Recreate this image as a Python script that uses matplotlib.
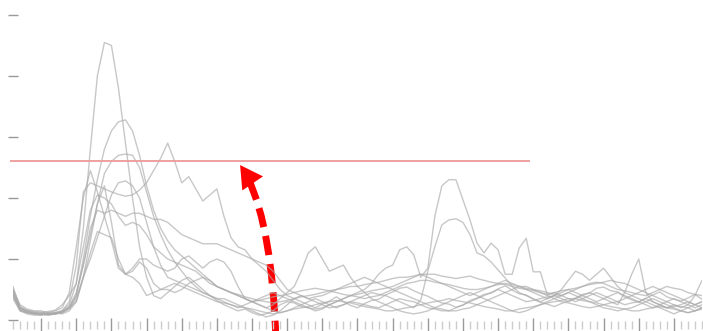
import numpy as np
import matplotlib.pyplot as plt
from matplotlib.patches import FancyArrowPatch
from matplotlib.ticker import MultipleLocator

weeks = np.arange(1, 100)

s1 = [5.5, 2.0, 1.5, 1.2, 1.0, 1.0, 1.2, 1.5, 2.5, 6.0,
      15, 28, 40, 45.5, 45, 38, 29, 20, 12, 7,
      4.0, 3.5, 4.5, 5.5, 6.5, 7.0, 6.0, 5.0, 4.0, 3.2,
      2.5, 2.0, 1.5, 1.8, 1.2, 0.8, 1.0, 1.5, 2.5, 3.0,
      2.8, 2.2, 2.0, 1.5, 1.8, 2.5, 3.0, 3.5, 4.0, 4.5,
      5.0, 6.0, 7.5, 8.5, 9.0, 11.5, 12.0, 10.7, 7.0, 8.5,
      17, 22, 23, 23, 19.7, 16.4, 12.6, 11, 12.6, 11.5,
      7.5, 7.5, 11.8, 13.4, 7.9, 7.9, 4.1, 4.5, 4.0, 3.5,
      3.0, 3.5, 4.0, 4.5, 4.0, 3.5, 3.0, 2.5, 2.8, 3.0,
      3.5, 3.0, 2.5, 2.0, 2.2, 2.5, 3.0, 2.5, 3.0]
s2 = [5.0, 2.2, 1.6, 1.4, 1.3, 1.0, 1.0, 1.3, 2.0, 4.0,
      10, 17, 23, 28, 31, 32.5, 32.8, 31, 27, 22,
      18, 15, 13, 11.5, 10.5, 9.5, 8.5, 7.5, 6.5, 5.5,
      5.0, 4.5, 4.2, 3.8, 3.5, 3.2, 3.0, 2.8, 3.0, 3.2,
      3.5, 3.8, 4.0, 4.2, 4.5, 4.8, 5.0, 5.2, 5.5, 5.5,
      5.8, 6.0, 6.2, 6.5, 6.8, 7.0, 7.0, 7.2, 7.5, 7.5,
      7.5, 7.2, 7.0, 6.8, 7.0, 7.2, 6.8, 6.5, 6.2, 6.0,
      5.8, 5.5, 5.2, 5.0, 4.8, 4.5, 4.2, 4.5, 4.8, 5.0,
      5.2, 5.5, 5.8, 6.0, 6.2, 6.5, 6.2, 6.0, 5.5, 5.0,
      4.5, 4.0, 3.5, 3.0, 2.5, 2.0, 2.5, 4.0, 6.5]
s3 = [4.5, 1.8, 1.2, 1.0, 0.8, 1.0, 1.2, 1.0, 1.5, 3.0,
      7, 13, 19, 24, 26, 27, 27.2, 27, 25, 21,
      17, 14, 11.5, 9.5, 8, 6.5, 5.5, 4.5, 4.0, 3.5,
      3.5, 3.0, 2.5, 2.0, 1.5, 1.0, 0.5, 0.8, 1.5, 2.5,
      3.5, 4.0, 3.5, 3.0, 2.5, 2.0, 2.2, 2.5, 3.0, 2.8,
      2.5, 2.2, 2.0, 2.5, 3.0, 3.5, 3.2, 3.0, 2.5, 2.0,
      1.8, 1.5, 1.5, 2.0, 2.5, 3.0, 3.5, 4.0, 4.5, 5.0,
      4.5, 4.0, 3.5, 3.0, 3.2, 3.5, 3.8, 4.0, 3.5, 3.0,
      3.5, 4.0, 4.5, 4.0, 3.5, 3.0, 2.5, 4.5, 7.5, 10.0,
      4.5, 3.0, 2.5, 2.0, 2.5, 2.2, 2.0, 1.5, 2.0]
s4 = [5.0, 2.5, 1.8, 1.5, 1.5, 1.2, 1.0, 1.5, 3.0, 9.0,
      21, 22.5, 22, 21.5, 21, 20.6, 20.3, 20.5, 21.3, 22.5,
      24.5, 26.5, 29, 26, 22.5, 23.5, 21.5, 19.5, 20.5, 21.5,
      17, 13.5, 12, 11.5, 10, 9, 8, 6.5, 5, 4,
      3.5, 3.0, 2.5, 2.0, 2.6, 3.1, 3.8, 3.0, 2.4, 2.0,
      2.7, 3.2, 3.4, 4.1, 4.6, 5.2, 5.4, 4.8, 4.3, 3.9,
      3.3, 2.8, 2.6, 2.1, 2.4, 3.2, 3.6, 4.2, 4.4, 5.1,
      5.6, 4.9, 4.3, 4.1, 3.4, 2.9, 2.6, 2.2, 2.7, 3.1,
      3.6, 4.2, 4.4, 5.2, 5.4, 4.8, 4.6, 3.8, 3.3, 2.9,
      3.6, 4.1, 4.6, 3.8, 3.4, 3.1, 3.6, 4.2, 3.4]
s5 = [4.0, 2.0, 1.4, 1.2, 1.0, 1.2, 1.5, 2.0, 4.5, 12,
      20, 24.5, 21, 17, 13, 8.5, 7.5, 8.5, 10, 10,
      9, 8.5, 8, 8.5, 10, 10.5, 9.5, 8.5, 9.5, 10,
      9.5, 8, 5.5, 3.5, 3.0, 2.5, 2.0, 1.5, 1.2, 1.5,
      2.0, 2.5, 3.0, 3.5, 3.0, 2.5, 2.0, 2.5, 3.0, 3.5,
      4.0, 4.5, 4.2, 4.0, 3.5, 3.0, 2.5, 2.0, 3.3, 8.0,
      12, 15.6, 16.4, 16.6, 16, 14, 11, 10.5, 9.5, 8.2,
      6.9, 5.5, 4.5, 4.0, 3.5, 3.0, 3.5, 4.0, 4.5, 5.0,
      4.5, 4.0, 3.5, 3.0, 3.5, 4.0, 4.5, 4.0, 3.5, 3.0,
      2.5, 2.0, 2.5, 3.0, 3.5, 3.0, 2.5, 2.0, 2.5]
s6 = [4.5, 1.5, 1.0, 0.8, 0.8, 1.0, 1.0, 1.2, 1.8, 3.5,
      7, 10, 13.5, 17, 20.5, 22.5, 22.8, 22, 20, 16,
      12, 9, 7, 6.5, 6, 5.5, 5, 4.5, 4, 3.5,
      3.0, 2.5, 2.0, 2.5, 3.0, 3.5, 4.0, 4.5, 4.0, 3.5,
      3.0, 2.5, 2.0, 1.8, 2.0, 2.5, 3.0, 3.5, 4.0, 4.2,
      4.5, 4.8, 5.0, 5.2, 5.5, 6.0, 6.5, 7.0, 7.5, 7.0,
      6.5, 6.0, 5.5, 5.0, 4.5, 4.0, 4.5, 5.0, 5.5, 6.0,
      6.5, 6.0, 5.5, 5.0, 4.5, 4.0, 3.5, 4.0, 5.0, 6.5,
      8.0, 7.5, 6.5, 7.5, 8.5, 7.0, 5.5, 4.5, 4.0, 3.5,
      3.0, 2.5, 2.0, 1.5, 1.0, 1.5, 2.0, 2.5, 3.0]
s7 = [4.8, 2.0, 1.5, 1.0, 1.0, 0.8, 1.0, 1.2, 2.0, 4.0,
      9, 15, 18, 17.5, 18, 17.5, 17, 17.5, 17.5, 17,
      16.5, 16.5, 16, 15, 14, 13.5, 13, 12.5, 12.5, 12.5,
      12, 11.5, 11, 10.5, 10, 9.5, 9, 8, 6.5, 5,
      4.5, 4.0, 3.5, 3.8, 4.0, 4.5, 5.0, 5.5, 6.0, 6.5,
      7.0, 6.5, 6.0, 5.5, 5.0, 4.5, 4.0, 3.5, 3.0, 2.5,
      2.0, 1.8, 1.5, 1.5, 1.8, 2.0, 2.5, 3.0, 3.5, 4.0,
      4.5, 5.0, 5.5, 5.5, 5.0, 4.5, 4.0, 3.5, 3.0, 2.8,
      2.5, 2.2, 2.0, 2.2, 2.5, 2.8, 3.0, 3.5, 4.0, 4.5,
      5.0, 5.5, 5.0, 4.5, 4.0, 3.5, 3.0, 2.5, 2.0]
s8 = [3.5, 1.5, 1.2, 1.0, 1.0, 1.0, 1.2, 1.5, 2.0, 3.0,
      7, 11, 14.5, 14, 13.5, 10, 7.5, 7, 6, 4,
      4.5, 5.0, 5.5, 6.0, 5.5, 5.0, 4.5, 4.0, 3.5, 3.0,
      2.8, 2.5, 2.2, 2.0, 1.8, 1.5, 1.2, 1.0, 1.2, 1.5,
      1.8, 2.0, 2.2, 2.5, 2.8, 3.0, 3.2, 3.0, 2.8, 2.5,
      2.2, 2.0, 1.8, 1.5, 1.5, 1.8, 2.0, 2.2, 2.5, 2.8,
      3.0, 3.2, 3.5, 3.2, 3.0, 2.8, 2.5, 2.2, 2.0, 1.8,
      1.5, 1.5, 1.8, 2.0, 2.2, 2.5, 2.8, 3.0, 3.2, 3.5,
      3.5, 3.2, 3.0, 2.8, 2.5, 2.2, 2.0, 1.8, 1.5, 1.5,
      1.8, 2.0, 2.2, 2.0, 1.8, 1.5, 1.2, 1.5, 1.8]
s9 = [4.2, 1.8, 1.3, 1.1, 1.2, 1.4, 1.6, 2.5, 4.0, 6.0,
      12, 18, 20.5, 20, 19, 17, 15.5, 16, 15.5, 14,
      12, 11, 10, 9.5, 9, 8.5, 8.0, 7.0, 6.0, 5.5,
      5.0, 4.5, 4.0, 3.5, 3.0, 3.2, 3.5, 3.8, 4.0, 4.2,
      4.5, 4.8, 5.0, 5.2, 5.0, 4.8, 4.5, 4.2, 4.0, 3.8,
      3.5, 3.8, 4.0, 4.5, 5.0, 5.5, 6.0, 6.2, 6.5, 6.5,
      6.2, 6.0, 5.8, 5.5, 5.2, 5.0, 5.0, 5.2, 5.5, 5.8,
      6.0, 5.8, 5.5, 5.2, 5.0, 4.8, 4.5, 4.2, 4.0, 4.5,
      5.0, 5.5, 6.0, 6.2, 6.0, 5.5, 5.0, 4.8, 4.5, 4.2,
      4.0, 4.5, 5.0, 5.5, 5.2, 5.0, 4.5, 4.2, 4.0]
s10 = [3.8, 1.6, 1.2, 1.2, 1.0, 0.8, 1.0, 1.3, 2.2, 4.5,
       9, 14, 19, 22, 16, 9, 7.5, 8, 9.5, 8.5,
       6, 5, 5, 4.5, 5, 6, 6.5, 7, 6.5, 5.5,
       5.0, 4.5, 4.0, 3.5, 3.0, 2.5, 2.0, 2.5, 3.5, 4.5,
       5.5, 8, 11, 12, 10, 8, 8.5, 9, 7, 5.5,
       4.5, 3.5, 3.0, 2.5, 2.0, 1.5, 1.2, 1.0, 1.2, 1.5,
       2.0, 2.5, 3.0, 3.5, 4.0, 4.5, 4.0, 3.5, 3.0, 2.5,
       2.0, 1.5, 1.2, 1.5, 2.0, 2.5, 3.0, 3.5, 4.0, 4.5,
       4.0, 3.5, 3.0, 2.5, 2.0, 1.8, 1.5, 1.8, 2.0, 2.5,
       3.0, 3.5, 3.0, 2.5, 2.0, 1.5, 1.2, 1.5, 2.0]

series = [s1, s2, s3, s4, s5, s6, s7, s8, s9, s10]

threshold = 26.1
threshold_span = (0.57, 74.5)

# curved arrow from below the axis up to the threshold line
arrow_start = (38.4, -3.3)
arrow_end = (33.3, 25.4)
head_base = (34.9, 22.7)

fig = plt.figure(figsize=(7.03, 3.31), dpi=100)
ax = fig.add_axes([13 / 703, 6 / 331, 689 / 703, 325 / 331])

for s in series:
    ax.plot(weeks, s, color="#aaaaaa", alpha=0.65, lw=1.0)

ax.hlines(threshold, *threshold_span, color="#ee9999", lw=1.3, clip_on=False)

# dashed shaft, stopped short of the tip
shaft = FancyArrowPatch(
    arrow_start, arrow_end,
    transform=ax.transData,
    connectionstyle="angle3,angleA=92,angleB=125",
    arrowstyle="-",
    shrinkA=0, shrinkB=12,
    color="#ff0000",
    lw=5.0,
    capstyle="butt",
    linestyle=(0, (2.8, 1.3)),
    clip_on=False,
)
ax.add_patch(shaft)

# solid head
head = FancyArrowPatch(
    head_base, arrow_end,
    transform=ax.transData,
    arrowstyle="simple,head_length=16,head_width=18,tail_width=0.1",
    mutation_scale=1,
    shrinkA=0, shrinkB=0,
    color="#ff0000",
    lw=0,
    clip_on=False,
)
ax.add_patch(head)

ax.set_xlim(1, 99)
ax.set_ylim(-0.82, 52.46)
ax.set_yticks(range(0, 51, 10))
ax.xaxis.set_major_locator(MultipleLocator(5))
ax.xaxis.set_minor_locator(MultipleLocator(1))
ax.tick_params(axis="y", direction="inout", length=7, width=1, color="#999999",
               labelleft=False)
ax.tick_params(axis="x", which="major", direction="inout", length=10, width=1,
               color="#999999", labelbottom=False)
ax.tick_params(axis="x", which="minor", direction="inout", length=6, width=1,
               color="#cccccc")
for sp in ax.spines.values():
    sp.set_visible(False)

fig.savefig("out.png", dpi=100)
